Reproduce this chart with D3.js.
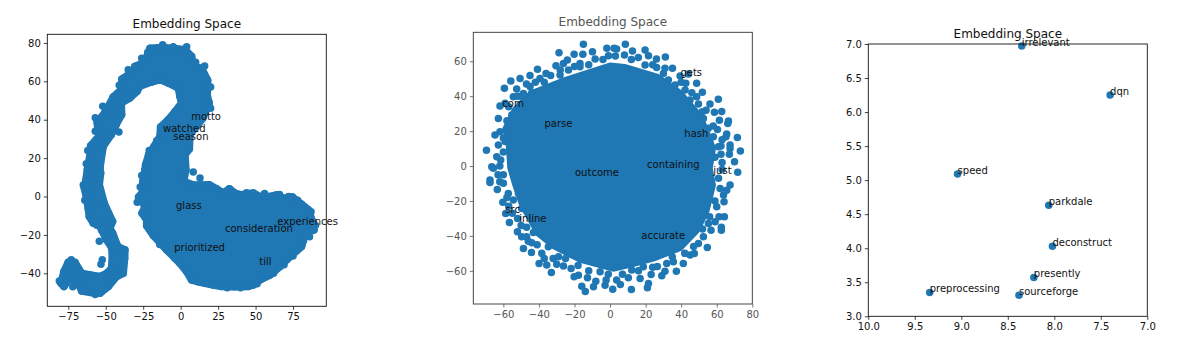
<!DOCTYPE html>
<html>
<head>
<meta charset="utf-8">
<script src="https://cdn.jsdelivr.net/npm/d3@7"></script>
<style>
  body { margin: 0; background: #fff; }
  text { font-family: "DejaVu Sans", sans-serif; }
</style>
</head>
<body>
<script>
// values. the dense middle of each cloud can't be told
// apart point by point, so it is drawn as a filled outline in data units
const swirlEdge = [[-79.9,-45.2],[-77.9,-39.1],[-75,-34.2],[-70.6,-34.2],[-66.1,-40],[-60.5,-40.8],[-53.9,-41.7],[-49.4,-40],[-46.1,-37.4],[-45.6,-30.4],[-46.1,-26.6],[-49.4,-22.6],[-52.8,-17.4],[-55,-13.9],[-58.3,-13.9],[-61,-10.4],[-61.7,-6.1],[-62.8,-0.9],[-64.3,4.4],[-63.2,8.7],[-62.3,13.9],[-60.3,22.6],[-60.1,26.4],[-54.8,31.3],[-55.7,38.6],[-50.5,43.8],[-45,51.8],[-39.2,56],[-39.2,61.2],[-32.1,65],[-30.5,67.8],[-24.1,69.9],[-20.5,77.2],[-15,77.5],[-9.4,77.4],[-3,77],[2.9,76.5],[7.3,73],[8.4,67.8],[14,66.8],[18,60.5],[17.8,52.2],[19.1,48.7],[14.7,40.7],[10,36],[6.2,32.2],[5.8,24.7],[2.9,21.7],[3.5,13.9],[2,8],[8.5,6],[19.1,6.1],[24,4],[28.5,1.8],[32.5,4],[36.2,1.8],[40.7,0.9],[48.5,1.8],[52.9,0],[59.6,0],[64.1,0.9],[68.5,-0.9],[74.7,-0.3],[80.7,-4],[85.2,-6.9],[88.5,-13.9],[89,-17.4],[83,-19.1],[80.7,-26.1],[77.4,-28.3],[70.7,-33],[66.3,-36.5],[59.6,-40.9],[54,-43],[48.5,-46.1],[45.1,-46.9],[36,-47],[27.4,-46.9],[21.8,-46.1],[16.2,-45.2],[7.3,-43.5],[4,-39.1],[-0.5,-34.8],[-9.4,-27.8],[-18.3,-20.3],[-22.7,-15.3],[-22.7,-12.2],[-25.8,-8.7],[-23.8,-5.2],[-28.1,-0.3],[-25.2,2.6],[-25.2,7.8],[-23.8,13.9],[-23.4,16.5],[-21.4,21.7],[-17.8,26.1],[-13.8,31.3],[-13.4,36.2],[-8.3,40],[-4,44],[0.6,48.7],[-0.5,52.2],[-1.6,56.5],[-8,59],[-13.8,60.9],[-20,59.5],[-27.2,57.4],[-29,54.8],[-33.9,51.3],[-39.6,48.7],[-39.4,42.6],[-43,37.5],[-46.3,32.2],[-51.7,26.1],[-53.9,14.8],[-53.4,12.2],[-54.3,6.1],[-51,-3.5],[-45.4,-13],[-47.2,-16.5],[-45.4,-19.1],[-41.9,-26.1],[-37.2,-27.8],[-37.4,-32.2],[-38.3,-40],[-42.8,-41.7],[-48.3,-46.9],[-53.9,-50.4],[-60,-50],[-66.1,-49.2],[-68.3,-45.2],[-73.9,-42.6],[-77.9,-46.9]];
const swirlStray = [[-41.2,33.6],[-54.3,-23.3],[-52.3,-33],[-53.2,-35.3],[8.4,12.7],[12.9,9.6],[22.2,-46.1],
  [-64,-2],[-65,6],[-63,17],[-62,24],[-57,34],[-57,41],[-52,47],[-41,58],[-35,66],[-26,72],[-22,75],[-12,79],[-5,78],[4,78],[10,70],[16,68],[20,57],[20,46],[12,38],[30,2.5],[44,2],[56,1.5],[66,1],[72,0],[78,-2],[87,-8],[90,-15],[86,-21],[82,-23],[75,-31],[69,-35.5],[62,-40],[51,-45.5],[40,-47.5],[31,-47.5],[12,-44.5],[-4,-32],[-14,-25],[-20,-18],[-29,-3],[-27,5],[-26,11],[-21,24],[-16,29],[-56,-15],[-58,-12],[-48,-46],[-57,-51],[-72,-47],[-81,-44],[-73,-33]];
const swirlWords = ["motto","watched","season","glass","consideration","experiences","prioritized","till"];
const swirlWordX = [7,-11.8,-4.9,-3.1,29.6,64.5,-4.3,52.5];
const swirlWordY = [39.6,33.4,29.6,-6.4,-18.3,-15.1,-28.2,-35.6];

const ballCore = [[0,58.8],[8.4,57.9],[27.2,52.1],[40.3,42.6],[51.6,29.2],[57,16],[59,10],[57.2,-1.3],[59,-11],[55.3,-26.2],[49.7,-37.6],[40,-48],[25,-54],[12,-57.5],[1.9,-60],[-16.9,-54.8],[-31.8,-47.2],[-41.2,-39.5],[-50.6,-22.4],[-54.4,-11],[-57.2,-1.3],[-58.1,12],[-60,21.6],[-54.4,33],[-45,42.6],[-26.2,50.2]];
const ballRim = [[-15,69.7],[-28.7,64.9],[-20.2,64],[-15.3,64],[-9.9,65.5],[-1.8,67.4],[2.3,67.4],[-24,60.7],[-30.4,57.5],[-26.2,58.8],[-16.9,58.8],[-8.4,61.3],[-0.9,63.2],[-40.8,55.4],[-45,51.8],[-50.6,50.2],[-55.8,48.7],[-59.4,44.5],[-52.5,44.1],[-33.4,51.8],[-39.4,50.2],[-45,45.5],[-48.7,41.6],[-54.4,39.7],[-61.9,34.4],[-62.8,27.3],[-59,35.9],[-55.3,29.2],[-64.7,17.8],[-61.9,19.7],[-62.8,12],[-69.5,9],[-63.7,5.4],[-61.5,3.4],[-66.5,-0.4],[-59,14],[-54.4,21.6],[-50.6,35],[-28.1,52.2],[-23.4,55],[-16.9,56.9],
  [8.6,69.7],[3.7,67],[12.6,65.9],[19.7,66.5],[21.6,63.2],[26.1,61.3],[31.1,62.5],[8.1,63.6],[15.9,62.1],[19.7,57.9],[26.2,56.5],[30.9,56],[35.1,56],[39.4,51.6],[44.1,52.7],[42.6,47.4],[48.7,47.4],[51.9,42.2],[48.7,39.7],[60.9,38.2],[56.2,35.5],[49.7,35.5],[51.9,31.1],[58.7,30.8],[62.8,31.2],[61.5,26.2],[66.6,25.8],[66.2,24.3],[60.4,21],[65.6,18.4],[65.2,16.8],[71.6,16.4],[67.5,12],[67.5,10.1],[62.4,11.5],[62.4,6.7],[67.1,6.7],[73.3,8.6],[70,2.5],[58.1,16.8],[60.9,11.1],[55.3,21.6],[32.8,49.3],[36.6,46.4],[42.2,43.6],[45,37.8],[52.5,27.3],
  [-67.5,-8],[-67.5,-9.4],[-63.4,-13.4],[-60,-9.9],[-65.6,-1.3],[-60.3,-20.8],[-58.7,-27.1],[-56.6,-32.3],[-54.4,-19.5],[-51.5,-15.7],[-57.2,-15.7],[-52.1,-37.6],[-49.7,-40.5],[-46.9,-40.5],[-43.1,-38],[-48.7,-47.2],[-44.2,-49.5],[-44,-43.9],[-38.4,-50],[-39.9,-55.8],[-35.6,-56.7],[-33,-60.9],[-34.7,-46.2],[-30,-56.3],[-26.2,-57.3],[-21.9,-58.6],[-20.2,-63.4],[-17.8,-62.5],[-12.7,-64],[-15.9,-68.8],[-13.9,-71.8],[-9.3,-69.1],[-8,-65.9],[-2.8,-68.2],[-2.2,-65.3],[1.5,-70.5],[-5.6,-60.6],[-49.7,-24.3],[-46.9,-35.1],[-29,-51.9],
  [71.8,-3.6],[67.5,-10.9],[65.6,-13.8],[63.8,-16.6],[64.1,-20.4],[61.9,-12.8],[60,-23.3],[64.3,-29],[61.3,-29],[62.6,-35.1],[62.6,-36.7],[56.8,-36.7],[54.7,-46.6],[49.7,-44.3],[52.5,-40.5],[47.4,-50.1],[41.2,-55.8],[37.3,-60.2],[26.6,-57.5],[29.1,-62.8],[30.9,-60.2],[21.6,-67.2],[21,-69.7],[12,-70.7],[5.8,-67.8],[23.1,-62.1],[16.9,-64.4],[10.3,-64],[3.7,-65.3],[45,-51],[35.6,-54.8],[31.9,-55.8],[18.7,-57.7],[12.2,-59.6],[55.3,-32.9],[59.1,-31.9],
  [-36,53],[-42,48],[-47,47],[-52,40],[-57,34],[-58,26],[-60,16],[-60,8],[-62,0],[-63,-5],[-60,-5],[-58,-18],[-55,-27],[-52,-30],[-50,-34],[-46,-43],[-41,-45],[-37,-53],[-32,-53],[-25,-53],[-18,-57],[-12,-60],[-1,-62],[7,-62],[16,-60],[24,-58],[35,-52],[42,-50],[47,-46],[52,-36],[56,-29],[59,-20],[61,-7],[63,-2],[63,2],[59,5],[63,15],[58,23],[54,32],[46,42],[40,48],[30,53],[24,58],[12,61],[3,63],[-4,61],[-12,58],[-20,57],[-28,55],[-37,48],[-44,42],[-50,40],[-57,20],[-56,8],[-62,-9],[-57,-23]];
const ballWords = ["gets","corn","parse","hash","containing","just","outcome","src","inline","accurate"];
const ballWordX = [39.6,-60.6,-36.9,41.8,20.8,58.1,-19.7,-58.9,-51,17.6];
const ballWordY = [51.8,33.9,22.5,16.8,-1.3,-4.6,-5.5,-26.7,-31.8,-41.5];

const zoomWords = ["irrelevant","dqn","speed","parkdale","deconstruct","presently","preprocessing","sourceforge"];
const zoomX = [8.35,7.4,9.04,8.06,8.02,8.22,9.34,8.38];
const zoomY = [6.97,6.25,5.09,4.63,4.03,3.57,3.35,3.31];

const swirlTicksX = [-75,-50,-25,0,25,50,75];
const swirlTicksY = [-40,-20,0,20,40,60,80];
const ballTicksX = [-60,-40,-20,0,20,40,60,80];
const ballTicksY = [-60,-40,-20,0,20,40,60];
const zoomTicksX = [10,9.5,9,8.5,8,7.5,7];
const zoomTicksY = [3,3.5,4,4.5,5,5.5,6,6.5,7];

const blue = "#1f77b4";
const markerR = 3.75;
const svg = d3.select("body").append("svg").attr("width", 1192).attr("height", 352);

function panel(opt) {
  const x = d3.scaleLinear().domain(opt.domX).range([opt.left, opt.right]);
  const y = d3.scaleLinear().domain(opt.domY).range([opt.bottom, opt.top]);
  const g = svg.append("g");

  if (opt.core) {
    // coreStroke: as wide as a marker so the outline reads like dots packed along it
    g.append("path")
      .attr("d", d3.line().x(d => x(d[0])).y(d => y(d[1])).curve(d3.curveLinearClosed)(opt.core))
      .attr("fill", blue)
      .attr("stroke", blue)
      .attr("stroke-width", opt.coreStroke)
      .attr("stroke-linejoin", "round");
  }
  g.selectAll("circle").data(opt.points).enter().append("circle")
    .attr("cx", d => x(d[0]))
    .attr("cy", d => y(d[1]))
    .attr("r", markerR)
    .attr("fill", blue);

  // frame
  g.append("rect")
    .attr("x", opt.left).attr("y", opt.top)
    .attr("width", opt.right - opt.left).attr("height", opt.bottom - opt.top)
    .attr("fill", "none").attr("stroke", opt.frame).attr("stroke-width", 0.9);

  const xAxis = d3.axisBottom(x).tickValues(opt.ticksX).tickSize(3.5).tickSizeOuter(0).tickPadding(3).tickFormat(opt.fmt);
  const yAxis = d3.axisLeft(y).tickValues(opt.ticksY).tickSize(3.5).tickSizeOuter(0).tickPadding(3).tickFormat(opt.fmt);
  [g.append("g").attr("transform", "translate(0," + opt.bottom + ")").call(xAxis),
   g.append("g").attr("transform", "translate(" + opt.left + ",0)").call(yAxis)].forEach(a => {
    a.select(".domain").remove();
    a.selectAll("line").attr("stroke", opt.tick).attr("stroke-width", 0.8);
    a.selectAll("text").attr("fill", opt.tick).style("font-size", "10px").style("font-family", '"DejaVu Sans"');
  });

  g.selectAll("text.word").data(opt.words).enter().append("text")
    .attr("class", "word")
    .attr("x", (d, i) => x(opt.wordX[i]))
    .attr("y", (d, i) => y(opt.wordY[i]))
    .attr("font-size", 10)
    .attr("fill", "#111")
    .text(d => d);

  g.append("text")
    .attr("x", (opt.left + opt.right) / 2)
    .attr("y", opt.titleY)
    .attr("text-anchor", "middle")
    .attr("font-size", 12)
    .attr("fill", opt.titleColor)
    .text("Embedding Space");
}

panel({
  left: 47.3, right: 326.3, top: 34.3, bottom: 306.3, titleY: 28,
  domX: [-89, 97.2], domY: [-57.2, 84.5],
  ticksX: swirlTicksX, ticksY: swirlTicksY,
  core: swirlEdge, coreStroke: markerR * 2, points: swirlEdge.concat(swirlStray),
  words: swirlWords, wordX: swirlWordX, wordY: swirlWordY,
  frame: "#111", tick: "#111", titleColor: "#111"
});

panel({
  left: 473.3, right: 752.3, top: 32.3, bottom: 304, titleY: 26,
  domX: [-76.9, 80], domY: [-79, 76.6],
  ticksX: ballTicksX, ticksY: ballTicksY,
  core: ballCore, coreStroke: 2, points: ballRim,
  words: ballWords, wordX: ballWordX, wordY: ballWordY,
  frame: "#333", tick: "#555", titleColor: "#555"
});

panel({
  left: 868.3, right: 1147.3, top: 44, bottom: 316.3, titleY: 38,
  domX: [10, 7], domY: [3, 7],
  ticksX: zoomTicksX, ticksY: zoomTicksY, fmt: d3.format(".1f"),
  points: zoomX.map((v, i) => [v, zoomY[i]]),
  words: zoomWords, wordX: zoomX, wordY: zoomY,
  frame: "#111", tick: "#111", titleColor: "#111"
});
</script>
</body>
</html>
